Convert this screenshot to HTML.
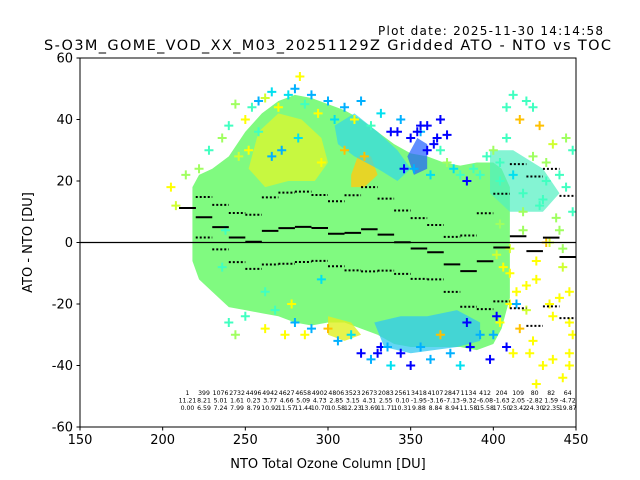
<!DOCTYPE html>
<html><head><meta charset="utf-8"><style>
body{margin:0;background:#fff}
svg{display:block;font-family:"DejaVu Sans","Liberation Sans",sans-serif}
</style></head><body>
<svg id="chart" width="640" height="480" viewBox="0 0 640 480" xmlns="http://www.w3.org/2000/svg">
<rect width="640" height="480" fill="#fff"/>
<text x="378" y="35" font-size="12" textLength="225">Plot date: 2025-11-30 14:14:58</text>
<text x="44" y="50" font-size="14.5" textLength="567">S-O3M_GOME_VOD_XX_M03_20251129Z Gridded ATO - NTO vs TOC</text>
<defs><clipPath id="clip"><rect x="80" y="58" width="496" height="369"/></clipPath></defs>
<g id="plot" clip-path="url(#clip)"></g>
<g id="axes"></g>
</svg>
<script>
// ---- data ----
const binCenters=[215,225,235,245,255,265,275,285,295,305,315,325,335,345,355,365,375,385,395,405,415,425,435,445];
const binCounts=[1,399,1076,2732,4496,4942,4627,4658,4902,4806,3523,2673,2083,2561,3418,4107,2847,1134,412,204,109,80,82,64];
const binMeans=[11.21,8.21,5.01,1.61,0.23,3.77,4.66,5.09,4.73,2.85,3.15,4.31,2.55,0.10,-1.95,-3.16,-7.13,-9.32,-6.08,-1.63,2.05,-2.82,1.59,-4.72];
const binStds=[0.00,6.59,7.24,7.99,8.79,10.92,11.57,11.44,10.70,10.58,12.23,13.69,11.71,10.31,9.88,8.84,8.94,11.58,15.58,17.50,23.42,24.30,22.35,19.87];
// cloud envelope (TOC, upper, lower)
const envX=[218,222,230,240,250,260,270,280,290,300,310,320,330,340,350,360,370,380,390,400,405,410];
const envUp=[18,22,24,28,36,42,46,48,47,45,43,40,36,32,29,28,26,25,26,26,24,18];
const envLo=[-6,-12,-16,-21,-22,-23,-24,-26,-27,-26,-26,-28,-30,-33,-34,-34,-34,-34,-35,-33,-28,-18];
// coloured patches [toc, diff] polygons
const patchYellow=[[252,24],[258,36],[270,42],[284,40],[296,34],[300,26],[292,20],[276,20],[262,18]];
const patchOrange=[[314,22],[318,28],[326,28],[330,22],[322,18],[314,18]];
const patchCyanUp=[[304,38],[316,42],[330,36],[342,30],[350,24],[342,20],[330,24],[316,28],[306,32]];
const patchBlueUp=[[348,28],[354,34],[360,32],[360,24],[352,22]];
const patchCyanLo=[[328,-26],[344,-24],[360,-24],[378,-22],[392,-26],[392,-32],[378,-34],[350,-36],[334,-34]];
const patchYellowLo=[[300,-24],[314,-26],[320,-30],[310,-32],[300,-30]];
const patchTeal=[[398,30],[412,30],[430,24],[440,16],[430,10],[410,10],[398,16]];
// scattered points: toc, diff, colour index
const ptX=[205,208,214,222,228,236,240,244,246,250,254,258,262,266,270,276,280,283,286,290,294,300,304,310,316,320,326,332,338,344,350,356,360,364,368,372,376,380,384,388,392,396,400,404,408,412,416,420,424,428,432,436,440,444,448,240,244,250,262,268,274,280,286,290,300,306,314,320,326,332,338,344,350,356,362,368,374,380,386,392,398,404,410,416,422,426,430,436,442,446,448,410,420,432,440,446,236,238,262,278,296,342,356,368,372,384,352,336,330,402,408,414,
 404,408,412,418,424,428,432,438,444,448,402,406,414,420,426,434,442,446,404,410,418,426,434,442,400,412,424,436,446,418,430,440,272,282,296,310,322,252,258,266,354,360,346,366,362];
const ptY=[18,12,22,24,30,34,38,45,28,40,44,46,47,49,44,48,50,54,45,48,42,46,40,44,40,46,38,42,36,40,34,36,38,32,30,26,24,22,20,24,22,28,30,26,44,48,40,46,44,38,26,32,22,34,30,-26,-30,-24,-28,-22,-30,-26,-30,-28,-28,-32,-30,-36,-38,-34,-40,-36,-40,-34,-38,-30,-36,-40,-34,-30,-38,-26,-20,-28,-36,-46,-40,-38,-44,-36,-30,-10,-14,0,-18,-26,-8,4,-16,-20,-12,36,38,40,35,-26,24,-34,-36,-24,-34,-20,
 20,34,22,16,28,12,20,8,18,10,-4,-8,-16,-22,-12,-20,-8,-16,6,-2,4,-6,0,-2,-30,-36,-32,-24,-40,10,14,4,30,34,26,30,28,30,36,28,36,30,24,34,22];
const ptC=[6,5,4,4,3,4,3,4,5,6,3,1,5,2,6,2,1,6,3,1,6,1,2,1,6,1,3,2,0,1,0,1,0,0,3,4,2,3,0,3,3,3,4,3,3,3,7,3,3,7,4,5,3,4,3,3,4,3,6,3,6,1,6,1,7,1,2,0,1,0,2,0,0,1,1,7,1,2,0,1,0,6,6,7,6,6,6,6,6,6,6,6,6,7,6,6,3,3,3,6,2,0,0,0,0,0,1,1,0,0,0,1,
 3,3,2,3,4,3,3,4,3,3,5,6,6,5,6,6,5,6,4,5,4,6,5,4,1,6,6,6,6,4,3,4,1,2,6,7,7,6,3,1,0,0,0,0,2];
const cmap=["#0000ff","#00b0ff","#00e0f0","#40ffc0","#a0ff60","#d0ff30","#ffff00","#ffc000"];

// ---- axes ----
const X0=80,X1=576,Y0=58,Y1=427;
const xs=v=>X0+(v-150)/(450-150)*(X1-X0);
const ys=v=>Y1-(v+60)/120*(Y1-Y0);
const NS="http://www.w3.org/2000/svg";
const plot=document.getElementById('plot'),axes=document.getElementById('axes');
function mk(tag,attrs,parent){const e=document.createElementNS(NS,tag);for(const k in attrs)e.setAttribute(k,attrs[k]);parent.appendChild(e);return e;}
function poly(arr,fill,name,op){const e=mk('polygon',{points:arr.map(p=>xs(p[0])+','+ys(p[1])).join(' '),fill:fill,'fill-opacity':op},plot);

}
const env=envX.map((x,i)=>[x,envUp[i]]).concat(envX.map((x,i)=>[x,envLo[i]]).reverse());
poly(env,"#80fa80","cloud-envelope",1);
poly(patchTeal,"#50f0c0","teal-patch",0.7);
poly(patchYellow,"#d8f830","yellow-patch",0.8);
poly(patchOrange,"#ffcc10","orange-patch",0.8);
poly(patchCyanUp,"#30d8e8","cyan-upper-patch",0.7);
poly(patchBlueUp,"#2060ff","blue-upper-patch",0.7);
poly(patchCyanLo,"#30c8f0","cyan-lower-patch",0.75);
poly(patchYellowLo,"#e0f020","yellow-lower-patch",0.8);
ptX.forEach((x,i)=>{const cx=xs(x),cy=ys(ptY[i]);
 const p=mk('path',{d:`M${cx-4.5},${cy}H${cx+4.5}M${cx},${cy-4.5}V${cy+4.5}`,stroke:cmap[ptC[i]],'stroke-width':2},plot);
 
 });
// zero line
const z=mk('line',{x1:X0,x2:X1,y1:ys(0),y2:ys(0),stroke:'#000','stroke-width':1.3},plot);


// bin means & std
binCenters.forEach((c,i)=>{const a=xs(c-5),b=xs(c+5);
 const m=mk('line',{x1:a,x2:b,y1:ys(binMeans[i]),y2:ys(binMeans[i]),stroke:'#000','stroke-width':2},plot);
 
 
 [1,-1].forEach(s=>{const v=binMeans[i]+s*binStds[i];
  const d=mk('line',{x1:a,x2:b,y1:ys(v),y2:ys(v),stroke:'#000','stroke-width':2,'stroke-dasharray':'2,2'},plot);
  
  });
 [binCounts[i],binMeans[i].toFixed(2),binStds[i].toFixed(2)].forEach((t,r)=>{
  const tx=mk('text',{x:xs(c),y:395+r*7.5,'font-size':6.2,'text-anchor':'middle'},axes);tx.textContent=t;
  
  });
});
const fr=mk('rect',{x:X0,y:Y0,width:X1-X0,height:Y1-Y0,fill:'none',stroke:'#000','stroke-width':1},axes);


const xTicks=[150,200,250,300,350,400,450],yTicks=[-60,-40,-20,0,20,40,60];
xTicks.forEach(v=>{mk('line',{x1:xs(v),x2:xs(v),y1:Y1,y2:Y1+3.5,stroke:'#000'},axes);
 const t=mk('text',{x:xs(v),y:Y1+17,'font-size':13,'text-anchor':'middle'},axes);t.textContent=v;
 
 });
yTicks.forEach(v=>{mk('line',{x1:X0-3.5,x2:X0,y1:ys(v),y2:ys(v),stroke:'#000'},axes);
 const t=mk('text',{x:X0-7,y:ys(v)+4.5,'font-size':13,'text-anchor':'end'},axes);t.textContent=v;
 
 });
const xt=mk('text',{x:(X0+X1)/2,y:468,'font-size':13,'text-anchor':'middle'},axes);xt.textContent='NTO Total Ozone Column [DU]';


const yt=mk('text',{x:0,y:0,'font-size':13,'text-anchor':'middle',transform:`translate(32,${(Y0+Y1)/2}) rotate(-90)`},axes);yt.textContent='ATO - NTO [DU]';


</script>
</body></html>
